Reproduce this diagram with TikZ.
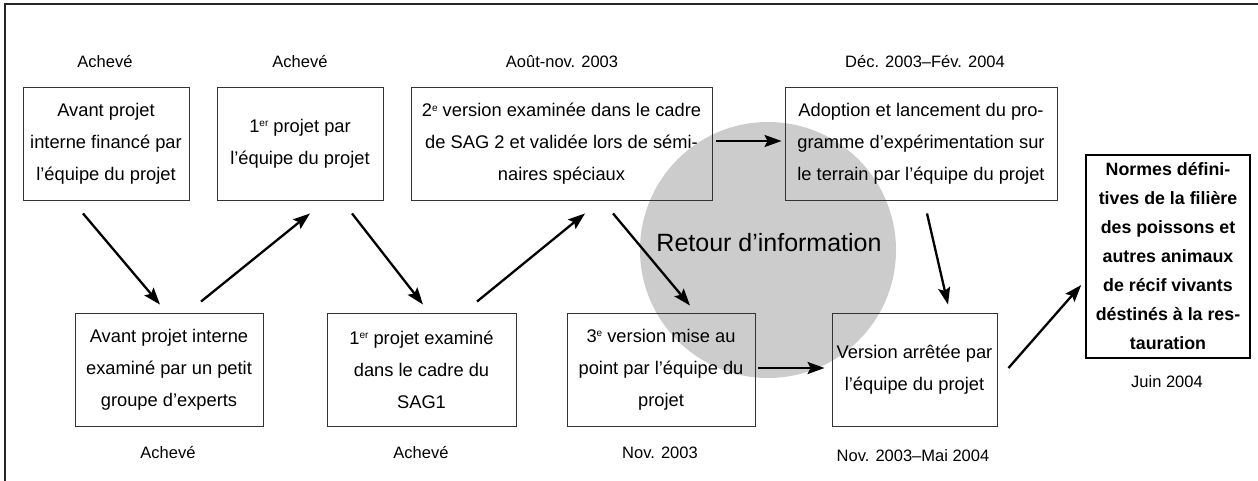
\documentclass[tikz,border=0pt]{standalone}
\usepackage{fontspec}
\setmainfont{Liberation Sans}
\usetikzlibrary{arrows.meta,calc}
\newcommand{\supx}[1]{\raisebox{0.55ex}{\fontsize{10}{10}\selectfont #1}}
\begin{document}
\begin{tikzpicture}[x=1pt,y=-1pt,
  stepbox/.style={draw=black!80,line width=0.9pt,align=center,inner sep=0pt,
    font=\fontsize{18.3}{32}\selectfont},
  finalbox/.style={draw=black,line width=1.6pt,align=center,inner sep=0pt,
    font=\fontsize{17.8}{29}\selectfont\bfseries},
  datelabel/.style={font=\fontsize{16.5}{20}\selectfont},
  flow/.style={line width=2.3pt,-{Stealth[length=17pt,width=12pt,inset=3pt]}}]
\useasboundingbox (0,0) rectangle (1258,481);
% frame
\draw[black!85,line width=1.5pt] (5,481) -- (5,4) -- (1258,4);
% feedback circle
\fill[black!20] (768,250) circle[radius=128];
\node[font=\fontsize{25}{30}\selectfont] (fb) at (769,243) {Retour d’information};
% boxes
\node[stepbox,minimum width=166,minimum height=113] (b1) at (106,143.5)
  {Avant projet\\interne financé par\\l’équipe du projet};
\node[stepbox,minimum width=166,minimum height=113] (b2) at (300,143.5)
  {1\supx{er} projet par\\l’équipe du projet};
\node[stepbox,minimum width=301,minimum height=113] (b3) at (561.5,143.5)
  {2\supx{e} version examinée dans le cadre\\de SAG 2 et validée lors de sémi-\\naires spéciaux};
\node[stepbox,minimum width=272,minimum height=113] (b4) at (921,143.5)
  {Adoption et lancement du pro-\\gramme d’expérimentation sur\\le terrain par l’équipe du projet};
\node[stepbox,minimum width=188,minimum height=113] (b5) at (169,369.5)
  {Avant projet interne\\examiné par un petit\\groupe d’experts};
\node[stepbox,minimum width=189,minimum height=113] (b6) at (421.5,369.5)
  {1\supx{er} projet examiné\\dans le cadre du\\SAG1};
\node[stepbox,minimum width=188,minimum height=113] (b7) at (661,369.5)
  {3\supx{e} version mise au\\point par l’équipe du\\projet};
\node[stepbox,minimum width=165,minimum height=113] (b8) at (914.5,369.5)
  {Version arrêtée par\\l’équipe du projet};
\node[finalbox,minimum width=164,minimum height=203] (b9) at (1168,256.5)
  {Normes défini-\\tives de la filière\\des poissons et\\autres animaux\\de récif vivants\\déstinés à la res-\\tauration};
% date labels
\node[datelabel] (l1) at (105,62) {Achevé};
\node[datelabel] (l2) at (300,62) {Achevé};
\node[datelabel] (l3) at (562,62) {Août-nov. 2003};
\node[datelabel] (l4) at (925,62) {Déc. 2003–Fév. 2004};
\node[datelabel] (l5) at (168,453) {Achevé};
\node[datelabel] (l6) at (421,453) {Achevé};
\node[datelabel] (l7) at (660,453) {Nov. 2003};
\node[datelabel] (l8) at (913,456) {Nov. 2003–Mai 2004};
\node[datelabel] (l9) at (1167,382) {Juin 2004};
% connectors
\draw[flow] ($(b1.south)+(-23,13)$) -- ($(b5.north)+(-9,-8)$);
\draw[flow] ($(b5.north)+(32,-11)$) -- ($(b2.south)+(10,13)$);
\draw[flow] ($(b2.south)+(52,13)$) -- ($(b6.north)+(1.5,-8)$);
\draw[flow] ($(b6.north)+(55.5,-11)$) -- ($(b3.south)+(23.5,13)$);
\draw[flow] ($(b3.south)+(51.5,13)$) -- ($(b7.north)+(29,-7)$);
\draw[flow] ($(b3.east)+(4,-2.5)$) -- ($(b4.west)+(-3,-2.5)$);
\draw[flow] ($(b7.east)+(3,-1.5)$) -- ($(b8.west)+(-7,-1.5)$);
\draw[flow] ($(b4.south)+(6,13)$) -- ($(b8.north)+(33.5,-8)$);
\draw[flow] ($(b8.east)+(11,-1.5)$) -- ($(b9.west)+(-4,28.5)$);
\end{tikzpicture}
\end{document}
